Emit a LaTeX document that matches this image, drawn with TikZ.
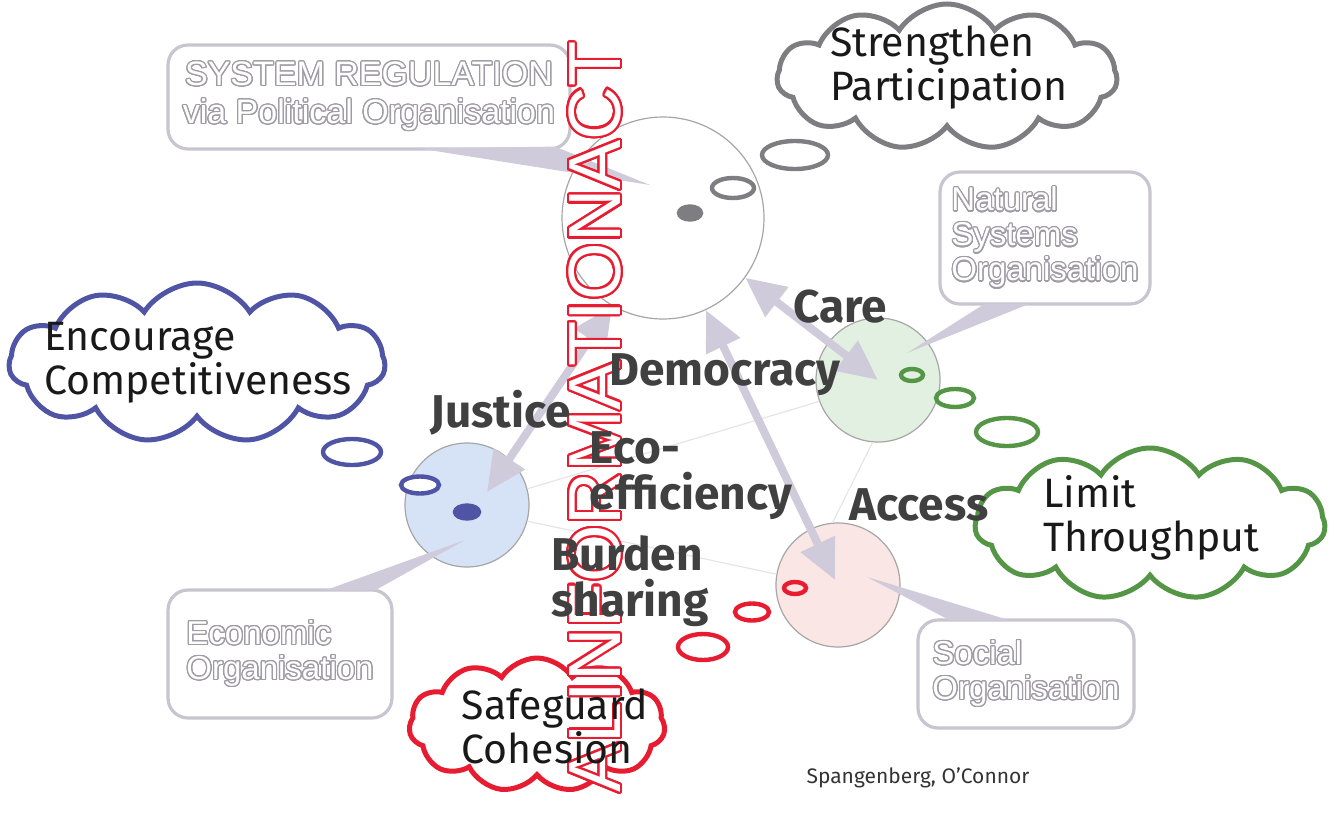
\documentclass[tikz,border=0pt]{standalone}
\usepackage{fontspec}
\usepackage{contour}
\usetikzlibrary{shapes.geometric,shapes.symbols,arrows.meta,calc}
\setmainfont{Fira Sans}
\newfontfamily\arialfont{Liberation Sans}

\definecolor{lavgrey}{RGB}{208,203,218}
\definecolor{boxgrey}{RGB}{200,196,208}
\definecolor{textgrey}{RGB}{160,156,166}
\definecolor{thinkgrey}{RGB}{125,125,130}
\definecolor{thinkblue}{RGB}{80,84,165}
\definecolor{thinkgreen}{RGB}{84,150,70}
\definecolor{thinkred}{RGB}{232,28,48}
\definecolor{natfill}{RGB}{226,240,226}
\definecolor{ecofill}{RGB}{214,227,246}
\definecolor{socfill}{RGB}{250,230,228}
\definecolor{polfill}{RGB}{255,255,255}

\contourlength{0.6pt}
\contournumber{24}
\newcommand{\hollowtext}[1]{\contour{textgrey}{\textcolor{white}{#1}}}
\newcommand{\redhollow}[1]{{\contourlength{1.1pt}\contour{thinkred}{\textcolor{white}{#1}}}}

\begin{document}
\begin{tikzpicture}
[x=0.5pt,y=-0.5pt,
  arrowDecorate/.style={{Triangle[length=20pt,width=18pt]}-{Triangle[length=20pt,width=18pt]},line width=4pt,draw=lavgrey},%
  faintDecorate/.style={draw=gray!20,line width=0.6pt},%
  circleDecorate/.style={shape=circle,draw=gray!70,line width=0.6pt},%
  boxDecorate/.style={draw=boxgrey,line width=1.6pt,rounded corners=10pt,fill=white,align=left,font=\arialfont\fontsize{16.5}{17.5}\selectfont},%
  cloudDecorate/.style={shape=cloud,cloud puffs=11,cloud puff arc=115,cloud ignores aspect,draw=#1,line width=2.5pt,fill=white,inner sep=0pt},%
  bubbleDecorate/.style={shape=ellipse,draw=#1,line width=2.2pt,inner sep=0pt},%
  thinkText/.style={font=\fontsize{20.5}{22}\selectfont,align=left,text=black!90},%
  valueText/.style={font=\bfseries\fontsize{23}{23}\selectfont,align=left,text=black!75}]
\useasboundingbox (0,0) rectangle (1332,813);
%% organisation circles
\foreach \nodename/\x/\y/\size/\col in {
  pol/663/218/101/polfill, nat/878/380/62/natfill, eco/467/505/62/ecofill, soc/838/585/62/socfill}
{
  \node (\nodename) at (\x,\y) [circleDecorate,minimum size=\size pt,fill=\col] {};
}
%% faint links
\draw[faintDecorate] (eco.15) -- (nat.200);
\draw[faintDecorate] (eco.345) -- (soc.170);
\draw[faintDecorate] (soc.95) -- (nat.265);
%% callout boxes
\node[boxDecorate,align=center,font=\arialfont\fontsize{17}{19}\selectfont,minimum width=201pt,minimum height=52pt] (polbox) at (369,97)
  {\hollowtext{SYSTEM REGULATION}\\\hollowtext{via Political Organisation}};
\node[boxDecorate,minimum width=105pt,minimum height=66pt] (natbox) at (1045,238)
  {\hollowtext{Natural}\\\hollowtext{Systems}\\\hollowtext{Organisation}};
\node[boxDecorate,minimum width=112pt,minimum height=64pt] (ecobox) at (280,654)
  {\hollowtext{Economic}\\\hollowtext{Organisation}};
\node[boxDecorate,minimum width=108pt,minimum height=54pt] (socbox) at (1026,674)
  {\hollowtext{Social}\\\hollowtext{Organisation}};
%% callout pointers
\fill[lavgrey] ($(polbox.south)+(51,-2)$) -- ($(polbox.south)+(186,-4)$) -- ($(pol.center)+(-13,-33)$) -- cycle;
\fill[lavgrey] ($(natbox.south)+(-60,-2)$) -- ($(natbox.south)+(-15,-2)$) -- ($(nat.center)+(29,-27)$) -- cycle;
\fill[lavgrey] ($(ecobox.north)+(45,2)$) -- ($(ecobox.north)+(95,2)$) -- ($(eco.center)+(-2,35)$) -- cycle;
\fill[lavgrey] ($(socbox.north)+(-76,2)$) -- ($(socbox.north)+(-16,2)$) -- ($(soc.center)+(29,-8)$) -- cycle;
%% two-way arrows
\draw[arrowDecorate] ($(eco.center)+(20,-13)$) -- (pol.240);
\draw[arrowDecorate] (pol.295) -- ($(soc.center)+(-3,-5)$);
\draw[arrowDecorate] (pol.324) -- (nat.center);
%% thought clouds
\node[cloudDecorate=thinkgrey,minimum width=170pt,minimum height=73pt] (partcloud) at (947,77) {};
\node[cloudDecorate=thinkblue,minimum width=188pt,minimum height=80pt] (compcloud) at (197,363) {};
\node[cloudDecorate=thinkgreen,minimum width=175pt,minimum height=76pt] (thrucloud) at (1150,524) {};
\node[cloudDecorate=thinkred,minimum width=128pt,minimum height=67pt] (cohcloud) at (537,725) {};
%% thought bubbles
\foreach \nodename/\x/\y/\w/\h/\col/\fillcol in {
  partb1/795/155/33/14/thinkgrey/white, partb2/733/188/21/10/thinkgrey/white, partb3/690/213/11/6.5/thinkgrey/thinkgrey,
  compb1/352/452/29/13/thinkblue/white, compb2/420/485/19/8.5/thinkblue/white, compb3/467/512/12/6.5/thinkblue/thinkblue,
  thrub1/1007/432/31/14/thinkgreen/white, thrub2/955/398/19/9/thinkgreen/white, thrub3/912/375/11/6/thinkgreen/natfill,
  cohb1/703/647/25/13/thinkred/white, cohb2/752/612/17/8.5/thinkred/white, cohb3/795/588/11/6/thinkred/socfill}
{
  \node (\nodename) at (\x,\y) [bubbleDecorate=\col,minimum width=\w pt,minimum height=\h pt,fill=\fillcol] {};
}
%% vertical banner
\node[rotate=90,inner sep=0pt,font=\arialfont\fontsize{37}{40}\selectfont] (infoact) at (596,417) {\redhollow{ALINFORMATIONACT}};
%% cloud texts
\node[thinkText] (parttext) at (949,68) {Strengthen\\Participation};
\node[thinkText] (comptext) at (198,363) {Encourage\\Competitiveness};
\node[thinkText] (thrutext) at (1151,518) {Limit\\Throughput};
\node[thinkText] (cohtext) at (555,726) {Safeguard\\Cohesion};
%% values
\node[valueText] (care) at (840,307) {Care};
\node[valueText] (democracy) at (725,375) {Democracy};
\node[valueText] (justice) at (501,413) {Justice};
\node[valueText] (ecoeff) at (691,476) {Eco-\\efficiency};
\node[valueText] (access) at (919,505) {Access};
\node[valueText] (burden) at (630,581) {Burden\\sharing};
\node[font=\fontsize{10.5}{12}\selectfont,text=black!80] (source) at (918,778) {Spangenberg, O'Connor};
\end{tikzpicture}
\end{document}
